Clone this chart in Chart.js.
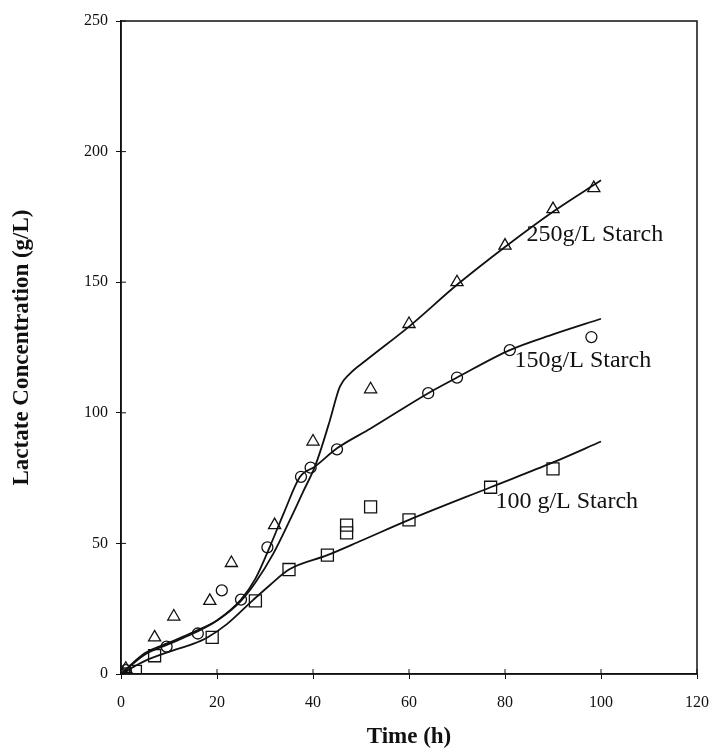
<!DOCTYPE html>
<html>
<head>
<meta charset="utf-8">
<script src="https://cdn.jsdelivr.net/npm/chart.js@4/dist/chart.umd.min.js"></script>
<style>
  html, body { margin: 0; padding: 0; background: #fff; }
  #wrap { width: 711px; height: 749px; position: relative; }
</style>
</head>
<body>
<div id="wrap"><canvas id="c" width="711" height="749"></canvas></div>
<script>
// ---- Data ----
const xTicks = [0, 20, 40, 60, 80, 100, 120];
const yTicks = [0, 50, 100, 150, 200, 250];

// Experimental points
const t250 = [0, 1, 7, 11, 18.5, 23, 32, 40, 52, 60, 70, 80, 90, 98.5];
const y250 = [0, 2, 14, 22, 28, 42.5, 57, 89, 109, 134, 150, 164, 178, 186];

const t150 = [0, 1, 9.5, 16, 21, 25, 30.5, 37.5, 39.5, 45, 64, 70, 81, 98];
const y150 = [0, 1.5, 10.5, 15.5, 32, 28.5, 48.5, 75.5, 79, 86, 107.5, 113.5, 124, 129];

const t100 = [0, 3, 7, 19, 28, 35, 43, 47, 47, 52, 60, 77, 90];
const y100 = [0, 1, 7, 14, 28, 40, 45.5, 54, 57, 64, 59, 71.5, 78.5];

// Model curves
const m250t = [0, 5, 10, 15, 20, 25, 28, 31.7, 35.2, 38, 40.4, 42, 43.5, 45.6, 47.7, 51, 60, 70, 80, 90, 100];
const m250y = [0, 8, 12, 16, 20.5, 28, 35, 46, 59, 70, 79.4, 88, 97, 110, 115, 120, 133, 149, 163.5, 177, 189];

const m150t = [0, 5, 10, 15, 20, 25, 28, 31, 34, 37.3, 40.4, 45, 52, 64, 70, 81, 90, 100];
const m150y = [0, 7.5, 11.5, 15.5, 20.5, 28.5, 36.5, 48.7, 62, 75.5, 79.4, 86.4, 94, 107.5, 113.5, 124, 130, 136];

const m100t = [0, 5, 10, 15, 18, 22, 27.5, 31, 35, 43, 50, 60, 77, 90, 100];
const m100y = [0, 5, 8.5, 11.5, 14, 19, 28.3, 34, 40, 45.5, 51, 59, 71.5, 81, 89];

const labels = ["250g/L Starch", "150g/L Starch", "100 g/L Starch"];
const labelPos = [[84.5, 168], [82, 120], [78, 66]];

const xTitle = "Time (h)";
const yTitle = "Lactate Concentration (g/L)";

// ---- Build ----
const pts = (xs, ys) => xs.map((x, i) => ({ x: x, y: ys[i] }));

const markerBase = {
  showLine: false,
  borderColor: '#111',
  backgroundColor: 'rgba(255,255,255,0)',
  borderWidth: 1.3,
  pointBorderWidth: 1.3
};
const lineBase = {
  showLine: true,
  borderColor: '#111',
  borderWidth: 1.8,
  pointRadius: 0,
  pointHoverRadius: 0,
  cubicInterpolationMode: 'monotone',
  fill: false
};

const SERIF = '"Liberation Serif", "DejaVu Serif", serif';

const decor = {
  id: 'decor',
  afterDraw(chart) {
    const ctx = chart.ctx;
    const a = chart.chartArea;
    const xs = chart.scales.x, ys = chart.scales.y;
    ctx.save();
    // frame
    ctx.strokeStyle = '#111';
    ctx.lineWidth = 1.5;
    ctx.strokeRect(a.left, a.top, a.right - a.left, a.bottom - a.top);
    // inner tick marks
    ctx.lineWidth = 1;
    ctx.beginPath();
    xTicks.forEach(v => {
      const p = xs.getPixelForValue(v);
      ctx.moveTo(p, a.bottom); ctx.lineTo(p, a.bottom - 5);
    });
    yTicks.forEach(v => {
      const p = ys.getPixelForValue(v);
      ctx.moveTo(a.left, p); ctx.lineTo(a.left + 5, p);
    });
    ctx.stroke();
    // annotations
    ctx.fillStyle = '#111';
    ctx.font = '24px ' + SERIF;
    ctx.textAlign = 'left';
    ctx.textBaseline = 'middle';
    labels.forEach((s, i) => {
      ctx.fillText(s, xs.getPixelForValue(labelPos[i][0]), ys.getPixelForValue(labelPos[i][1]));
    });
    // axis titles
    ctx.font = 'bold 23px ' + SERIF;
    ctx.textAlign = 'center';
    ctx.fillText(xTitle, (a.left + a.right) / 2, 737);
    ctx.translate(22, (a.top + a.bottom) / 2);
    ctx.rotate(-Math.PI / 2);
    ctx.fillText(yTitle, 0, 0);
    ctx.restore();
  }
};

new Chart(document.getElementById('c'), {
  type: 'scatter',
  data: {
    datasets: [
      Object.assign({}, markerBase, { label: '250', data: pts(t250, y250), pointStyle: 'triangle', pointRadius: 7 }),
      Object.assign({}, markerBase, { label: '150', data: pts(t150, y150), pointStyle: 'circle', pointRadius: 5.5 }),
      Object.assign({}, markerBase, { label: '100', data: pts(t100, y100), pointStyle: 'rect', pointRadius: 8.5 }),
      Object.assign({}, lineBase, { label: 'm250', data: pts(m250t, m250y) }),
      Object.assign({}, lineBase, { label: 'm150', data: pts(m150t, m150y) }),
      Object.assign({}, lineBase, { label: 'm100', data: pts(m100t, m100y) })
    ]
  },
  options: {
    responsive: false,
    animation: false,
    devicePixelRatio: 1,
    layout: { padding: { top: 21, right: 14, left: 0, bottom: 0 } },
    plugins: { legend: { display: false }, tooltip: { enabled: false }, title: { display: false } },
    scales: {
      x: {
        type: 'linear', min: 0, max: 120,
        afterBuildTicks: s => { s.ticks = xTicks.map(v => ({ value: v })); },
        afterFit: s => { s.height = 75; s.paddingLeft = 0; s.paddingRight = 0; },
        ticks: { color: '#111', font: { family: SERIF, size: 16 }, padding: 14, maxRotation: 0 },
        grid: { display: true, drawOnChartArea: false, drawTicks: true, tickLength: 5, color: '#111', lineWidth: 1 },
        border: { display: true, color: '#111', width: 1.5 }
      },
      y: {
        type: 'linear', min: 0, max: 250,
        afterBuildTicks: s => { s.ticks = yTicks.map(v => ({ value: v })); },
        afterFit: s => { s.width = 121; s.paddingTop = 0; s.paddingBottom = 0; },
        ticks: { color: '#111', font: { family: SERIF, size: 16 }, padding: 8 },
        grid: { display: true, drawOnChartArea: false, drawTicks: true, tickLength: 5, color: '#111', lineWidth: 1 },
        border: { display: true, color: '#111', width: 1.5 }
      }
    }
  },
  plugins: [decor]
});
</script>
</body>
</html>
